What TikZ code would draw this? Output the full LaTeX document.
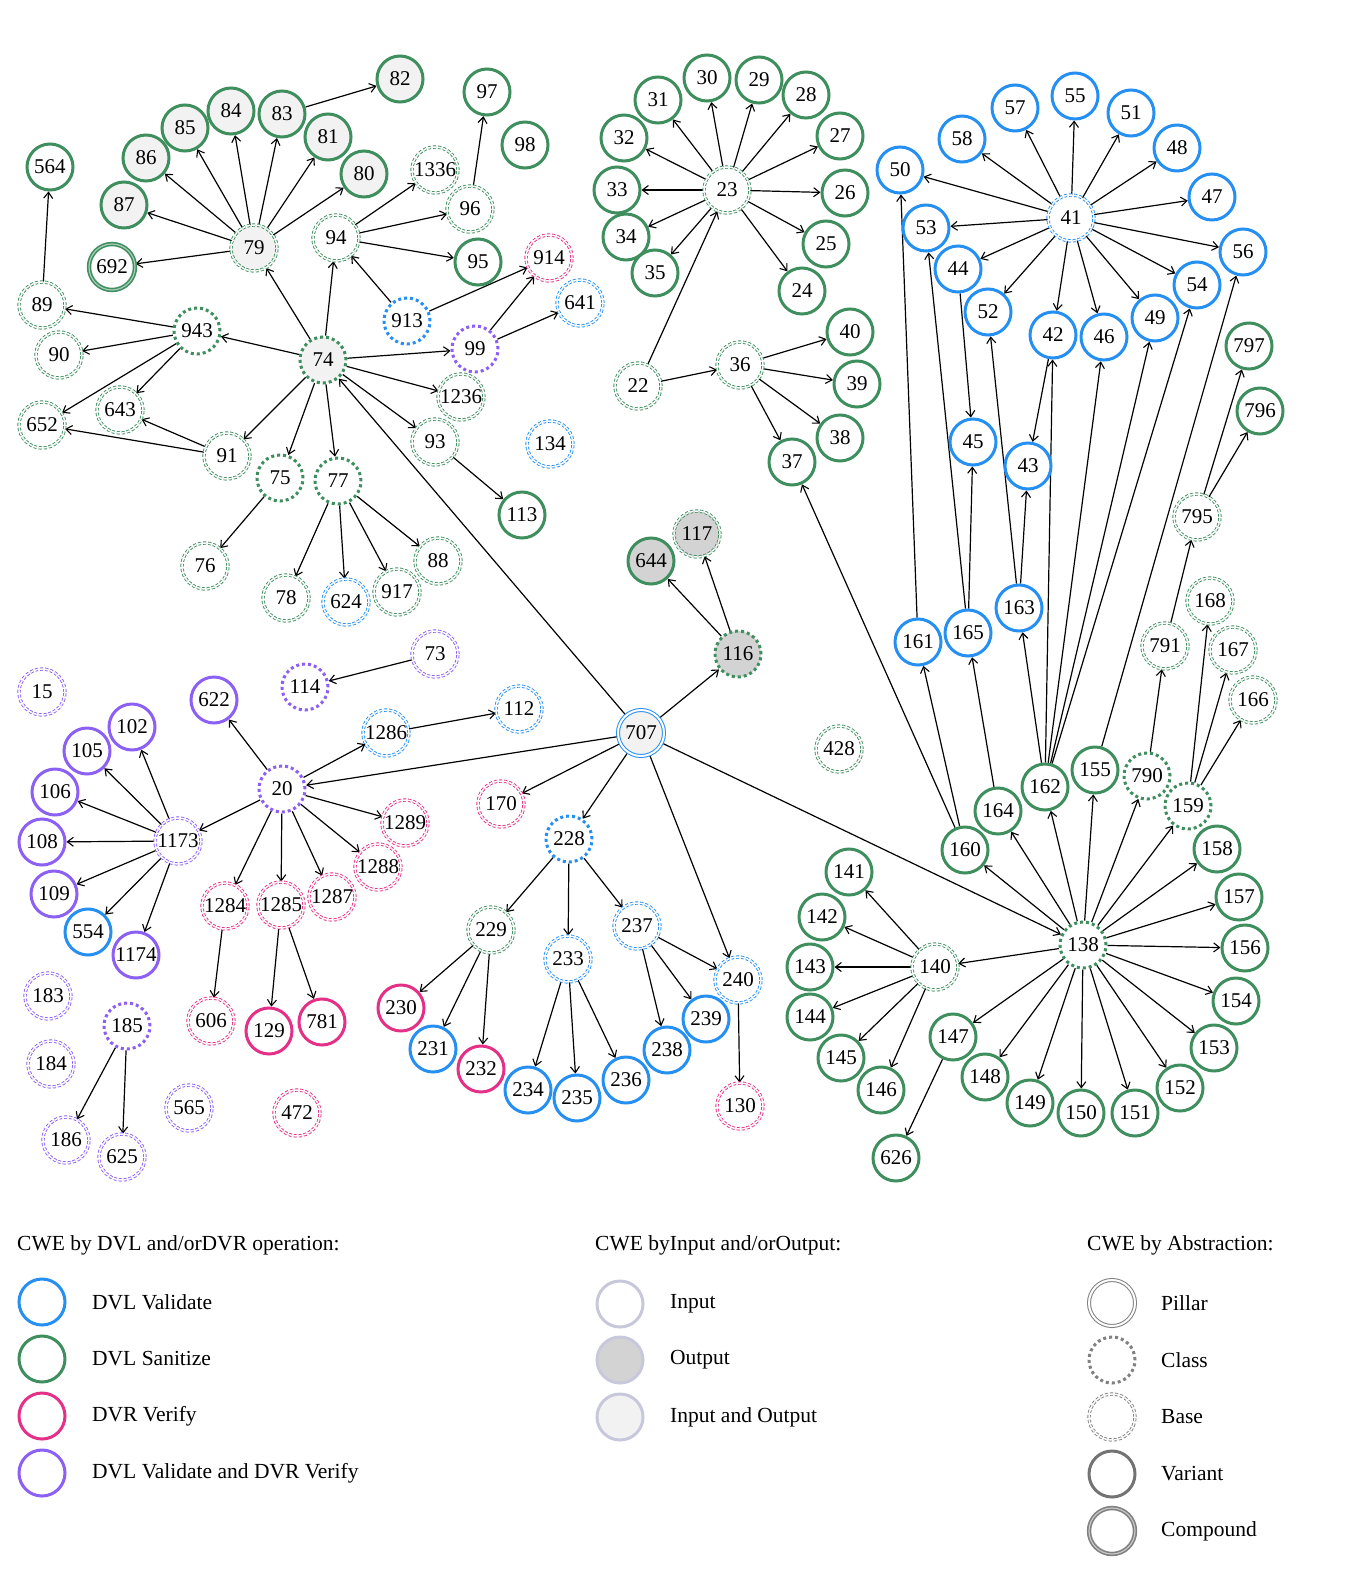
\documentclass[tikz,border=0pt]{standalone}
\usepackage{fontspec}
\setmainfont{Liberation Serif}
\usetikzlibrary{arrows.meta,backgrounds}
\definecolor{cBlue}{RGB}{38,143,242}
\definecolor{cGreen}{RGB}{62,142,94}
\definecolor{cPink}{RGB}{228,48,135}
\definecolor{cPurple}{RGB}{140,95,245}
\definecolor{fIO}{HTML}{F2F2F2}
\definecolor{fO}{HTML}{D3D3D3}
\definecolor{lgIO}{HTML}{C8C8DC}
\definecolor{lgAb}{HTML}{808080}
\newcommand\cwe[4]{\node[#4] (n#1) at (#2,#3) {#1};}
\begin{document}
\begin{tikzpicture}[x=1pt,y=-1pt,
 nd/.style={circle, inner sep=0pt, minimum size=46pt, font=\fontsize{21}{21}\selectfont, fill=white},
 var/.style={nd, line width=3pt},
 cls/.style={nd, line width=3pt, dash pattern=on 3pt off 3pt},
 bas/.style={nd, line width=0.9pt, double=white, double distance=1.5pt, dash pattern=on 3pt off 2pt},
 pil/.style={nd, line width=1pt, double=white, double distance=2pt},
 cmp/.style={nd, line width=1.6pt, double distance=1.2pt},
 cb/.style={draw=cBlue}, cg/.style={draw=cGreen}, cp/.style={draw=cPink}, cv/.style={draw=cPurple},
 fio/.style={fill=fIO}, fo/.style={fill=fO},
 arr/.style={-{Straight Barb[length=6pt,width=9pt,line width=1.1pt]}, line width=1.2pt},
 lgt/.style={anchor=west, font=\fontsize{21.5}{21.5}\selectfont, inner sep=0pt}
]
\useasboundingbox (0,0) rectangle (1348,1582);
% ---------- top-left cluster ----------
\cwe{82}{400}{79}{var,cg,fio}
\cwe{84}{231}{111}{var,cg,fio}
\cwe{83}{282}{114}{var,cg,fio}
\cwe{85}{185}{128}{var,cg,fio}
\cwe{81}{328}{137}{var,cg,fio}
\cwe{86}{146}{158}{var,cg,fio}
\cwe{80}{364}{174}{var,cg,fio}
\cwe{87}{124}{205}{var,cg,fio}
\cwe{564}{50}{167}{var,cg}
\cwe{79}{254}{248}{bas,cg,fio}
\cwe{692}{112}{267}{cmp,cg,double=cGreen!45}
\cwe{89}{42}{305}{bas,cg}
\cwe{90}{59}{355}{bas,cg}
\cwe{943}{197}{331}{cls,cg}
\cwe{652}{42}{425}{bas,cg}
\cwe{643}{120}{410}{bas,cg}
\cwe{91}{227}{456}{bas,cg}
\cwe{74}{323}{360}{cls,cg,fio}
\cwe{75}{280}{478}{cls,cg}
\cwe{77}{338}{481}{cls,cg}
\cwe{76}{205}{566}{bas,cg}
\cwe{78}{286}{598}{bas,cg}
\cwe{624}{346}{602}{bas,cb}
\cwe{917}{397}{592}{bas,cg}
\cwe{88}{438}{561}{bas,cg}
\cwe{93}{435}{442}{bas,cg}
\cwe{1236}{461}{397}{bas,cg}
\cwe{113}{522}{515}{var,cg}
\cwe{99}{475}{349}{cls,cv}
\cwe{913}{407}{321}{cls,cb}
\cwe{94}{336}{238}{bas,cg}
\cwe{1336}{435}{170}{bas,cg}
\cwe{96}{470}{209}{bas,cg}
\cwe{95}{478}{262}{var,cg}
\cwe{97}{487}{92}{var,cg}
\cwe{98}{525}{145}{var,cg}
\cwe{914}{549}{258}{bas,cp}
\cwe{641}{580}{303}{bas,cb}
\cwe{134}{550}{444}{bas,cb}
% ---------- 23 cluster ----------
\cwe{23}{727}{190}{bas,cg}
\cwe{30}{707}{78}{var,cg}
\cwe{29}{759}{80}{var,cg}
\cwe{31}{658}{100}{var,cg}
\cwe{28}{806}{95}{var,cg}
\cwe{32}{624}{138}{var,cg}
\cwe{27}{840}{136}{var,cg}
\cwe{33}{617}{190}{var,cg}
\cwe{26}{845}{193}{var,cg}
\cwe{34}{626}{237}{var,cg}
\cwe{25}{826}{244}{var,cg}
\cwe{35}{655}{273}{var,cg}
\cwe{24}{802}{291}{var,cg}
\cwe{22}{638}{386}{bas,cg}
\cwe{36}{740}{365}{bas,cg}
\cwe{40}{850}{332}{var,cg}
\cwe{39}{857}{384}{var,cg}
\cwe{38}{840}{438}{var,cg}
\cwe{37}{792}{462}{var,cg}
% ---------- 41 cluster ----------
\cwe{41}{1071}{218}{bas,cb}
\cwe{55}{1075}{96}{var,cb}
\cwe{57}{1015}{108}{var,cb}
\cwe{51}{1131}{113}{var,cb}
\cwe{58}{962}{139}{var,cb}
\cwe{48}{1177}{148}{var,cb}
\cwe{50}{900}{170}{var,cb}
\cwe{47}{1212}{197}{var,cb}
\cwe{53}{926}{228}{var,cb}
\cwe{56}{1243}{252}{var,cb}
\cwe{44}{958}{269}{var,cb}
\cwe{54}{1197}{285}{var,cb}
\cwe{52}{988}{312}{var,cb}
\cwe{42}{1053}{335}{var,cb}
\cwe{46}{1104}{337}{var,cb}
\cwe{49}{1155}{318}{var,cb}
\cwe{45}{973}{442}{var,cb}
\cwe{43}{1028}{466}{var,cb}
\cwe{161}{918}{642}{var,cb}
\cwe{165}{968}{633}{var,cb}
\cwe{163}{1019}{608}{var,cb}
\cwe{797}{1249}{346}{var,cg}
\cwe{796}{1260}{411}{var,cg}
\cwe{795}{1197}{517}{bas,cg}
\cwe{791}{1165}{646}{bas,cg}
\cwe{168}{1210}{601}{bas,cg}
\cwe{167}{1233}{650}{bas,cg}
\cwe{166}{1253}{700}{bas,cg}
\cwe{162}{1045}{787}{var,cg}
\cwe{155}{1095}{770}{var,cg}
\cwe{790}{1147}{776}{cls,cg}
\cwe{159}{1188}{806}{cls,cg}
\cwe{164}{998}{811}{var,cg}
\cwe{160}{965}{850}{var,cg}
\cwe{158}{1217}{849}{var,cg}
% ---------- 138 cluster ----------
\cwe{138}{1083}{945}{cls,cg}
\cwe{157}{1239}{897}{var,cg}
\cwe{156}{1245}{948}{var,cg}
\cwe{154}{1236}{1001}{var,cg}
\cwe{153}{1214}{1048}{var,cg}
\cwe{152}{1180}{1088}{var,cg}
\cwe{151}{1135}{1113}{var,cg}
\cwe{150}{1081}{1113}{var,cg}
\cwe{149}{1030}{1103}{var,cg}
\cwe{148}{985}{1077}{var,cg}
\cwe{147}{953}{1037}{var,cg}
\cwe{626}{896}{1158}{var,cg}
\cwe{140}{935}{967}{bas,cg}
\cwe{141}{849}{872}{var,cg}
\cwe{142}{822}{917}{var,cg}
\cwe{143}{810}{967}{var,cg}
\cwe{144}{810}{1017}{var,cg}
\cwe{145}{841}{1058}{var,cg}
\cwe{146}{881}{1090}{var,cg}
% ---------- centre ----------
\cwe{707}{641}{733}{pil,cb,fio}
\cwe{116}{738}{654}{cls,cg,fo}
\cwe{117}{697}{534}{bas,cg,fo}
\cwe{644}{651}{561}{var,cg,fo}
\cwe{428}{839}{749}{bas,cg}
\cwe{170}{501}{804}{bas,cp}
\cwe{228}{569}{839}{cls,cb}
\cwe{229}{491}{930}{bas,cg}
\cwe{233}{568}{959}{bas,cb}
\cwe{237}{637}{926}{bas,cb}
\cwe{240}{738}{980}{bas,cb}
\cwe{230}{401}{1008}{var,cp}
\cwe{231}{433}{1049}{var,cb}
\cwe{232}{481}{1069}{var,cp}
\cwe{234}{528}{1090}{var,cb}
\cwe{235}{577}{1098}{var,cb}
\cwe{236}{626}{1080}{var,cb}
\cwe{238}{667}{1050}{var,cb}
\cwe{239}{706}{1019}{var,cb}
\cwe{130}{740}{1106}{bas,cp}
% ---------- bottom-left ----------
\cwe{15}{42}{692}{bas,cv}
\cwe{114}{305}{687}{cls,cv}
\cwe{73}{435}{654}{bas,cv}
\cwe{1286}{386}{733}{bas,cb}
\cwe{112}{519}{709}{bas,cb}
\cwe{622}{214}{700}{var,cv}
\cwe{20}{282}{789}{cls,cv}
\cwe{102}{132}{727}{var,cv}
\cwe{105}{87}{751}{var,cv}
\cwe{106}{55}{792}{var,cv}
\cwe{108}{42}{842}{var,cv}
\cwe{109}{54}{894}{var,cv}
\cwe{554}{88}{932}{var,cb}
\cwe{1174}{136}{955}{var,cv}
\cwe{1173}{178}{841}{bas,cv}
\cwe{1289}{405}{823}{bas,cp}
\cwe{1288}{378}{867}{bas,cp}
\cwe{1287}{332}{897}{bas,cp}
\cwe{1285}{281}{905}{bas,cp}
\cwe{1284}{225}{906}{bas,cp}
\cwe{606}{211}{1021}{bas,cp}
\cwe{129}{269}{1031}{var,cp}
\cwe{781}{322}{1022}{var,cp}
\cwe{183}{48}{996}{bas,cv}
\cwe{184}{51}{1064}{bas,cv}
\cwe{185}{127}{1026}{cls,cv}
\cwe{186}{66}{1140}{bas,cv}
\cwe{625}{122}{1157}{bas,cv}
\cwe{565}{189}{1108}{bas,cv}
\cwe{472}{297}{1113}{bas,cp}
% ---------- edges ----------
\begin{scope}[on background layer]
\fill[white] (0,0) rectangle (1348,1582);
\foreach \a/\b in {89/564, 79/692, 79/87, 79/86, 79/85, 79/84, 79/83, 79/81, 79/80, 83/82,
 74/79, 74/94, 74/943, 74/99, 74/1236, 74/93, 74/91, 74/75, 74/77,
 943/89, 943/90, 943/652, 943/643, 91/643, 91/652, 75/76,
 77/78, 77/624, 77/917, 77/88, 93/113, 707/74,
 94/1336, 94/96, 94/95, 913/94, 913/914, 96/97, 99/914, 99/641,
 23/30, 23/29, 23/31, 23/28, 23/32, 23/27, 23/33, 23/26, 23/34, 23/25, 23/35, 23/24,
 22/23, 22/36, 36/40, 36/39, 36/38, 36/37, 160/37,
 41/55, 41/57, 41/51, 41/58, 41/48, 41/50, 41/47, 41/53, 41/56, 41/44, 41/54, 41/52, 41/42, 41/46, 41/49,
 44/45, 42/43, 161/50, 165/53, 165/45, 163/43, 163/52,
 162/163, 162/42, 162/46, 162/49, 162/54, 155/56,
 795/797, 795/796, 791/795, 790/791, 159/168, 159/167, 159/166,
 160/161, 164/165,
 138/160, 138/164, 138/162, 138/155, 138/790, 138/159, 138/158, 138/157, 138/156, 138/154,
 138/153, 138/152, 138/151, 138/150, 138/149, 138/148, 138/147, 138/140, 707/138,
 140/141, 140/142, 140/143, 140/144, 140/145, 140/146, 147/626,
 707/116, 116/644, 116/117, 707/20, 707/170, 707/228, 707/240,
 228/229, 228/233, 228/237, 229/230, 229/231, 229/232, 233/234, 233/235, 233/236,
 237/238, 237/239, 237/240, 240/130, 73/114,
 20/1286, 1286/112, 20/622, 20/1173,
 1173/102, 1173/105, 1173/106, 1173/108, 1173/109, 1173/554, 1173/1174,
 20/1289, 20/1288, 20/1287, 20/1285, 20/1284, 1284/606, 1285/129, 1285/781, 185/186, 185/625}
 \draw[arr] (n\a) -- (n\b);
\end{scope}
% ---------- legend ----------
\node[lgt] (t1) at (17,1245) {CWE by DVL and/orDVR operation:};
\node[nd,line width=3pt,draw=cBlue] (l1a) at (42,1302) {};
\node[nd,line width=3pt,draw=cGreen] (l1b) at (42,1359) {};
\node[nd,line width=3pt,draw=cPink] (l1c) at (42,1416) {};
\node[nd,line width=3pt,draw=cPurple] (l1d) at (42,1473) {};
\node[lgt] (t1a) at (92,1302) {DVL Validate};
\node[lgt] (t1b) at (92,1359) {DVL Sanitize};
\node[lgt] (t1c) at (92,1416) {DVR Verify};
\node[lgt] (t1d) at (92,1473) {DVL Validate and DVR Verify};
\node[lgt] (t2) at (595,1245) {CWE byInput and/orOutput:};
\node[nd,line width=3pt,draw=lgIO] (l2a) at (620,1304) {};
\node[nd,line width=3pt,draw=lgIO,fill=fO] (l2b) at (620,1360) {};
\node[nd,line width=3pt,draw=lgIO,fill=fIO] (l2c) at (620,1417) {};
\node[lgt] (t2a) at (670,1304) {Input};
\node[lgt] (t2b) at (670,1360) {Output};
\node[lgt] (t2c) at (670,1417) {Input and Output};
\node[lgt] (t3) at (1087,1245) {CWE by Abstraction:};
\node[pil,draw=lgAb] (l3a) at (1112,1303) {};
\node[cls,draw=lgAb] (l3b) at (1112,1360) {};
\node[bas,draw=lgAb] (l3c) at (1112,1417) {};
\node[var,draw=lgAb!90!black] (l3d) at (1112,1474) {};
\node[cmp,draw=lgAb,double=lgAb!45] (l3e) at (1112,1531) {};
\node[lgt] (t3a) at (1161,1303) {Pillar};
\node[lgt] (t3b) at (1161,1360) {Class};
\node[lgt] (t3c) at (1161,1417) {Base};
\node[lgt] (t3d) at (1161,1474) {Variant};
\node[lgt] (t3e) at (1161,1531) {Compound};
\end{tikzpicture}
\end{document}
